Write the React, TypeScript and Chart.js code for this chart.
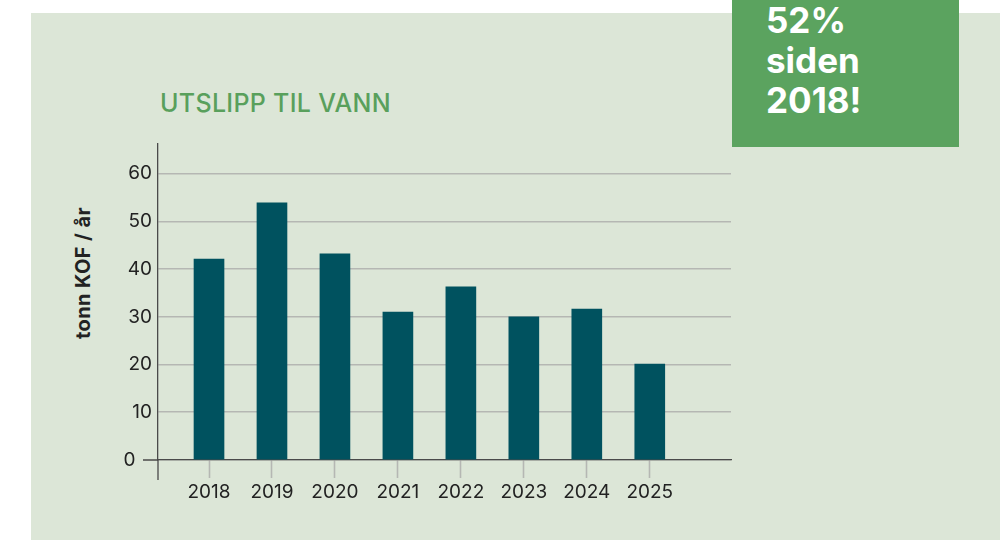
import React, { useEffect, useRef } from "react";
import { Chart, registerables } from "chart.js";

Chart.register(...registerables);

const years = [2018, 2019, 2020, 2021, 2022, 2023, 2024, 2025];
const emissions = [42.1, 53.9, 43.2, 31.0, 36.3, 30.0, 31.6, 20.1];
const yTicks = [0, 10, 20, 30, 40, 50, 60];
const titleText = "UTSLIPP TIL VANN";
const yAxisTitle = "tonn KOF / år";
const calloutLines = ["52%", "siden", "2018!"];

const FONT = "Inter, 'Noto Sans', sans-serif";
const AXIS_DARK = "#4a4a4a";
const GRID = "#b5b7b3";
const BAR = "#00525f";

const overhangPlugin = {
  id: "overhang",
  afterDraw(chart: any) {
    const { ctx, chartArea } = chart;
    const y = chart.scales.y.getPixelForValue(0);
    const x = chartArea.left;
    ctx.save();
    ctx.strokeStyle = AXIS_DARK;
    ctx.lineWidth = 1.3;
    ctx.beginPath();
    ctx.moveTo(x - 15, y);
    ctx.lineTo(x, y);
    ctx.moveTo(x, y);
    ctx.lineTo(x, y + 20);
    ctx.stroke();
    ctx.restore();
  },
};

export default function App() {
  const ref = useRef<HTMLCanvasElement | null>(null);

  useEffect(() => {
    document.body.style.margin = "0";
    const canvas = ref.current;
    if (!canvas) return;
    const chart = new Chart(canvas, {
      type: "bar",
      data: {
        datasets: [
          {
            data: years.map((yr, i) => ({ x: yr, y: emissions[i] })),
            backgroundColor: BAR,
            borderWidth: 0,
            barThickness: 30,
          },
        ],
      },
      plugins: [overhangPlugin],
      options: {
        animation: false,
        responsive: false,
        maintainAspectRatio: false,
        layout: { padding: { left: 98, top: 144, right: 269, bottom: 0 } },
        plugins: {
          legend: { display: false },
          tooltip: { enabled: false },
          title: { display: false },
        },
        scales: {
          x: {
            type: "linear",
            offset: false,
            min: 2017.19,
            max: 2026.29,
            afterBuildTicks: (scale: any) => {
              scale.ticks = years.map((v) => ({ value: v }));
            },
            afterFit: (scale: any) => {
              scale.height = 80;
            },
            grid: {
              offset: false,
              drawOnChartArea: false,
              drawTicks: true,
              tickLength: 18,
              tickColor: GRID,
              tickWidth: 1.6,
            },
            border: { display: true, color: AXIS_DARK, width: 1.3 },
            ticks: {
              color: "#222",
              font: { family: FONT, size: 19 },
              padding: 3,
              callback: (v: any) => String(v),
            },
          },
          y: {
            min: 0,
            max: 66.2,
            afterBuildTicks: (scale: any) => {
              scale.ticks = yTicks.map((v) => ({ value: v }));
            },
            afterFit: (scale: any) => {
              scale.width = 60;
            },
            grid: {
              color: GRID,
              lineWidth: 1.6,
              drawTicks: false,
            },
            border: { display: true, color: AXIS_DARK, width: 1.3 },
            ticks: {
              color: "#222",
              font: { family: FONT, size: 19 },
              padding: 6,
              callback: (v: any) => (v === 0 ? "0\u2002\u2009\u2009" : String(v)),
            },
          },
        },
      },
    });
    return () => chart.destroy();
  }, []);

  return (
    <div style={{ position: "fixed", left: 0, top: 0, width: 1000, height: 540, background: "#ffffff", overflow: "hidden" }}>
      <div style={{ position: "absolute", left: 31, top: 13, width: 969, height: 527, background: "#dce6d7" }} />
      <div
        style={{
          position: "absolute",
          left: 160,
          top: 87,
          fontFamily: FONT,
          fontSize: 25,
          fontWeight: 500,
          letterSpacing: "0.3px",
          color: "#59a05c",
          whiteSpace: "nowrap",
          lineHeight: "32px",
        }}
      >
        {titleText}
      </div>
      <div
        style={{
          position: "absolute",
          left: 83,
          top: 273,
          transform: "translate(-50%, -50%) rotate(-90deg)",
          fontFamily: FONT,
          fontSize: 20,
          fontWeight: 700,
          letterSpacing: "0.4px",
          color: "#222",
          whiteSpace: "nowrap",
        }}
      >
        {yAxisTitle}
      </div>
      <canvas ref={ref} width={1000} height={540} style={{ position: "absolute", left: 0, top: 0, width: 1000, height: 540 }} />
      <div
        style={{
          position: "absolute",
          left: 732,
          top: 0,
          width: 227,
          height: 147,
          background: "#5ba35f",
          overflow: "hidden",
        }}
      >
        {calloutLines.map((line, i) => (
          <div
            key={i}
            style={{
              position: "absolute",
              left: 34,
              top: 32 + i * 40 - 32,
              fontFamily: FONT,
              fontSize: 35,
              fontWeight: 700,
              color: "#ffffff",
              lineHeight: "40px",
              whiteSpace: "nowrap",
            }}
          >
            {line}
          </div>
        ))}
      </div>
    </div>
  );
}
